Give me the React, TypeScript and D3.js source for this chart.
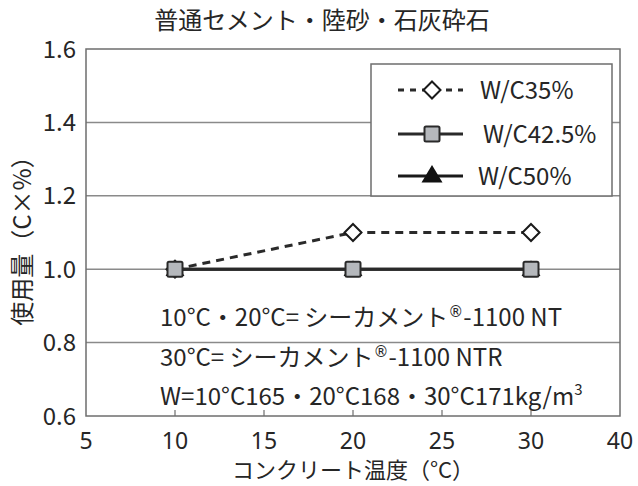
import React from "react";
import * as d3 from "d3";

const temps = [10, 20, 30];
const wc35 = [1.0, 1.1, 1.1];
const wc425 = [1.0, 1.0, 1.0];
const wc50 = [1.0, 1.0, 1.0];
const xTickValues = [5, 10, 15, 20, 25, 30, 35];
const xTickLabels = ["5", "10", "15", "20", "25", "30", "40"];
const yTickValues = [0.6, 0.8, 1.0, 1.2, 1.4, 1.6];
const legendLabels = ["W/C35%", "W/C42.5%", "W/C50%"];
const title = "普通セメント・陸砂・石灰砕石";
const xTitle = "コンクリート温度（°C）";
const yTitle = "使用量（C×%）";

const W = 638, H = 486;
const M = { left: 86, right: 620, top: 49, bottom: 416 };
const FONT = "'Noto Sans CJK JP', 'Noto Sans', sans-serif";
const TXT = "#262626";

export default function App() {
  const x = d3.scaleLinear().domain([5, 35]).range([M.left, M.right]);
  const y = d3.scaleLinear().domain([0.6, 1.6]).range([M.bottom, M.top]);
  const line = d3.line<number>().x((_, i) => x(temps[i])).y((d) => y(d));
  const diamond = (cx: number, cy: number, r: number) =>
    `M${cx},${cy - r}L${cx + r},${cy}L${cx},${cy + r}L${cx - r},${cy}Z`;
  const tri = (cx: number, cy: number, r: number) =>
    `M${cx},${cy - r}L${cx + r * 1.05},${cy + r * 0.75}L${cx - r * 1.05},${cy + r * 0.75}Z`;

  const Sq = ({ cx, cy }: { cx: number; cy: number }) => (
    <rect x={cx - 7.5} y={cy - 7.5} width={15} height={15} rx={1.5} fill="#b5b8bc" stroke="#2a2a2a" strokeWidth={2} />
  );

  const legendRows = [90, 134, 176];
  const lx1 = 398, lx2 = 463, lmx = 432;
  const REG = "'DejaVu Sans', sans-serif";
  const LAT = "'Noto Sans', sans-serif";

  return (
    <svg width={W} height={H} style={{ position: "absolute", left: 0, top: 0, background: "#fff" }} fontFamily={FONT}>
      <rect x={0} y={0} width={W} height={H} fill="#fff" />
      {/* gridlines */}
      {yTickValues.slice(1, -1).map((v) => (
        <line key={v} x1={M.left} x2={M.right} y1={y(v)} y2={y(v)} stroke="#8a8a8a" strokeWidth={1.5} />
      ))}
      {/* plot border */}
      <rect x={M.left} y={M.top} width={M.right - M.left} height={M.bottom - M.top} fill="none" stroke="#6e6e6e" strokeWidth={1.5} />
      {/* x ticks */}
      {xTickValues.slice(1, -1).map((v) => (
        <line key={v} x1={x(v)} x2={x(v)} y1={M.bottom} y2={M.bottom - 6} stroke="#6e6e6e" strokeWidth={1.2} />
      ))}
      {/* y tick labels */}
      {yTickValues.map((v) => (
        <text key={v} x={76} y={y(v)} dy="0.36em" textAnchor="end" fontSize={24} fill={TXT}>
          {d3.format(".1f")(v)}
        </text>
      ))}
      {/* x tick labels */}
      {xTickValues.map((v, i) => (
        <text key={v} x={x(v)} y={449} textAnchor="middle" fontSize={23} fontFamily={LAT} fill={TXT}>
          {xTickLabels[i]}
        </text>
      ))}
      {/* titles */}
      <text x={322} y={29} textAnchor="middle" fontSize={24} fill={TXT}>{title}</text>
      <text x={353} y={478} textAnchor="middle" fontSize={22} fill={TXT}>{xTitle}</text>
      <text transform={`translate(31,235) rotate(-90)`} textAnchor="middle" fontSize={24} fill={TXT}>{yTitle}</text>

      {/* series W/C50% (under) */}
      <path d={line(wc50) || ""} fill="none" stroke="#1a1a1a" strokeWidth={3} />
      {wc50.map((v, i) => (
        <path key={"t" + i} d={tri(x(temps[i]), y(v), 9)} fill="#111" />
      ))}
      {/* series W/C35% dashed */}
      <path d={line(wc35) || ""} fill="none" stroke="#2a2a2a" strokeWidth={3} strokeDasharray="8,6" />
      {wc35.map((v, i) => (
        <path key={"d" + i} d={diamond(x(temps[i]), y(v), 8.5)} fill="#fff" stroke="#1a1a1a" strokeWidth={2} />
      ))}
      {/* series W/C42.5% */}
      <path d={line(wc425) || ""} fill="none" stroke="#2a2a2a" strokeWidth={3} />
      {wc425.map((v, i) => (
        <Sq key={"s" + i} cx={x(temps[i])} cy={y(v)} />
      ))}

      {/* annotations */}
      <text x={160} y={326} fontSize={24} fill={TXT}>
        10°C・20°C= シーカメント<tspan fontFamily={REG} fontSize={15} dy={-9}>®</tspan><tspan dy={9}>-1100 NT</tspan>
      </text>
      <text x={160} y={366} fontSize={24} fill={TXT}>
        30°C= シーカメント<tspan fontFamily={REG} fontSize={15} dy={-9}>®</tspan><tspan dy={9}>-1100 NTR</tspan>
      </text>
      <text x={160} y={405} fontSize={24} fill={TXT}>
        W=10°C165・20°C168・30°C171kg/m<tspan fontSize={15} dy={-10}>3</tspan>
      </text>

      {/* legend */}
      <rect x={371} y={64} width={241} height={132} fill="#fff" stroke="#6e6e6e" strokeWidth={1.5} />
      <line x1={lx1} x2={lx2} y1={legendRows[0]} y2={legendRows[0]} stroke="#2a2a2a" strokeWidth={3} strokeDasharray="6,6" />
      <path d={diamond(lmx, legendRows[0], 8.5)} fill="#fff" stroke="#1a1a1a" strokeWidth={2} />
      <line x1={lx1} x2={lx2} y1={legendRows[1]} y2={legendRows[1]} stroke="#2a2a2a" strokeWidth={3} />
      <Sq cx={lmx} cy={legendRows[1]} />
      <line x1={lx1} x2={lx2} y1={legendRows[2]} y2={legendRows[2]} stroke="#1a1a1a" strokeWidth={3} />
      <path d={tri(lmx, legendRows[2] - 1, 10)} fill="#111" />
      {legendLabels.map((l, i) => (
        <text key={l} x={[480, 483, 478][i]} y={legendRows[i]} dy="0.36em" fontSize={24} fill={TXT}>{l}</text>
      ))}
    </svg>
  );
}
